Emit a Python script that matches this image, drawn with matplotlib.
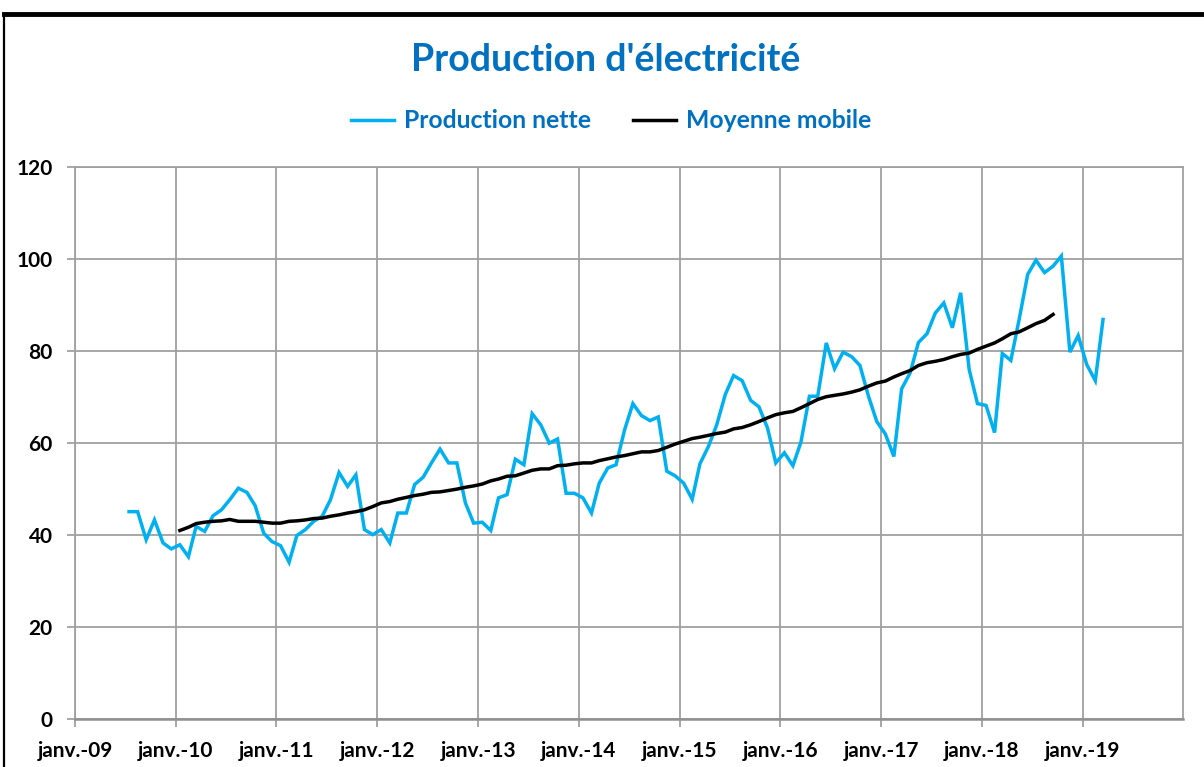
import matplotlib
matplotlib.use("Agg")
import matplotlib.pyplot as plt
import matplotlib.dates as mdates
from matplotlib.lines import Line2D
import numpy as np
import pandas as pd

# ---- data ----
prod_start = "2009-07"
production_nette = [
    45.1, 45.1, 39.0, 43.3, 38.3, 37.0,                                  # 2009 (Jul-Dec)
    37.9, 35.3, 41.9, 40.8, 44.2, 45.5, 47.7, 50.2, 49.3, 46.4, 40.4, 38.6,  # 2010
    37.7, 34.1, 39.9, 41.2, 43.0, 44.1, 47.7, 53.6, 50.6, 53.1, 41.2, 40.1,  # 2011
    41.2, 38.3, 44.8, 44.8, 51.0, 52.6, 55.7, 58.7, 55.7, 55.7, 47.0, 42.6,  # 2012
    42.8, 41.0, 48.1, 48.8, 56.5, 55.3, 66.4, 64.0, 60.0, 60.9, 49.1, 49.1,  # 2013
    48.1, 44.8, 51.3, 54.6, 55.3, 62.9, 68.6, 66.0, 64.9, 65.7, 53.9, 52.9,  # 2014
    51.3, 47.8, 55.5, 59.3, 64.0, 70.6, 74.7, 73.6, 69.3, 67.9, 63.3, 55.7,  # 2015
    57.9, 55.1, 60.2, 70.2, 70.2, 81.8, 76.2, 79.8, 78.8, 76.9, 70.2, 64.7,  # 2016
    62.0, 57.1, 71.8, 75.3, 81.9, 83.8, 88.3, 90.5, 85.1, 92.7, 76.0, 68.6,  # 2017
    68.2, 62.3, 79.5, 78.0, 86.9, 96.7, 99.8, 97.1, 98.5, 100.7, 79.8, 83.4, # 2018
    77.1, 73.6, 86.9,                                                    # 2019
]
mm_start = "2010-01"
moyenne_mobile = [
    41.0, 41.7, 42.5, 42.8, 43.0, 43.1, 43.4, 43.0, 43.0, 43.0, 42.8, 42.6,  # 2010
    42.6, 43.0, 43.1, 43.3, 43.6, 43.7, 44.1, 44.4, 44.8, 45.1, 45.5, 46.2,  # 2011
    47.0, 47.3, 47.8, 48.2, 48.6, 48.9, 49.3, 49.4, 49.7, 50.0, 50.4, 50.7,  # 2012
    51.1, 51.8, 52.2, 52.8, 52.9, 53.5, 54.1, 54.4, 54.4, 55.1, 55.2, 55.5,  # 2013
    55.7, 55.7, 56.2, 56.6, 57.0, 57.3, 57.7, 58.1, 58.1, 58.4, 59.1, 59.8,  # 2014
    60.4, 61.0, 61.3, 61.7, 62.1, 62.4, 63.1, 63.4, 64.0, 64.7, 65.5, 66.2,  # 2015
    66.6, 66.9, 67.7, 68.6, 69.5, 70.1, 70.4, 70.7, 71.1, 71.6, 72.4, 73.1,  # 2016
    73.5, 74.4, 75.1, 75.8, 76.9, 77.5, 77.8, 78.2, 78.8, 79.3, 79.6, 80.4,  # 2017
    81.1, 81.8, 82.7, 83.8, 84.2, 85.1, 86.0, 86.7, 88.0,                    # 2018
]
tick_years = list(range(2009, 2020))
tick_labels = ["janv.-%02d" % (y % 100) for y in tick_years]
y_ticks = [0, 20, 40, 60, 80, 100, 120]

title = "Production d'électricité"
label_prod = "Production nette"
label_mm = "Moyenne mobile"

# ---- styling ----
FONT = "Lato"
BLUE_TXT = "#0070C0"
BLUE_LINE = "#00B0F0"
GRID = "#A0A0A0"

W, H = 1204, 767
fig = plt.figure(figsize=(W / 100, H / 100), dpi=100)
fig.patch.set_facecolor("white")

ax_left, ax_right = 75 / W, 1183.3 / W
ax_bottom, ax_top = (H - 719) / H, (H - 167.3) / H
ax = fig.add_axes([ax_left, ax_bottom, ax_right - ax_left, ax_top - ax_bottom])

# mid-month positions (Excel date axis places points between tick marks)
x_prod = pd.date_range(prod_start, periods=len(production_nette), freq="MS") + pd.Timedelta(days=15)
x_mm = pd.date_range(mm_start, periods=len(moyenne_mobile), freq="MS") + pd.Timedelta(days=15)

l1, = ax.plot(x_prod, production_nette, color=BLUE_LINE, lw=2.5, solid_joinstyle="miter",
              label=label_prod, zorder=3)
l2, = ax.plot(x_mm, moyenne_mobile, color="black", lw=2.5, label=label_mm, zorder=4)

ax.set_xlim(pd.Timestamp("2009-01-01"), pd.Timestamp("2020-01-01"))
ax.set_ylim(0, 120)
ax.set_xticks([pd.Timestamp(f"{y}-01-01") for y in tick_years])
ax.set_xticklabels(tick_labels)
ax.set_yticks(y_ticks)
ax.set_yticklabels([str(v) for v in y_ticks])

ax.grid(True, color=GRID, lw=1.3)
ax.set_axisbelow(True)
for s in ax.spines.values():
    s.set_color(GRID)
    s.set_linewidth(1.3)
ax.spines["bottom"].set_linewidth(1.8)
ax.spines["bottom"].set_color("#909090")

ax.tick_params(axis="both", direction="out", color=GRID, width=1.3, length=6)
ax.tick_params(axis="y", pad=10)
ax.tick_params(axis="x", pad=10)
for lab in ax.get_xticklabels() + ax.get_yticklabels():
    lab.set_fontfamily(FONT)
    lab.set_fontweight("bold")
    lab.set_fontsize(15)
    lab.set_color("black")

# title
fig.text(606 / W, 1 - 60 / H, title, ha="center", va="center", fontsize=27,
         fontweight="bold", color=BLUE_TXT, family=FONT)

# legend
leg = fig.legend(handles=[l1, l2], labels=[label_prod, label_mm], loc="center",
                 bbox_to_anchor=(611 / W, 1 - 121 / H), ncol=2, frameon=False,
                 prop={"family": FONT, "weight": "bold", "size": 17.8},
                 handlelength=1.75, handletextpad=0.4, columnspacing=1.7)
for t in leg.get_texts():
    t.set_color(BLUE_TXT)

# outer chart frame (partially visible in the reference)
fig.add_artist(Line2D([4 / W, 1.0], [1 - 14 / H, 1 - 14 / H], color="black", lw=3.5,
                      transform=fig.transFigure))
fig.add_artist(Line2D([4 / W, 4 / W], [0, 1 - 14 / H], color="black", lw=1.6,
                      transform=fig.transFigure))

fig.savefig("out.png", dpi=100, facecolor="white")
